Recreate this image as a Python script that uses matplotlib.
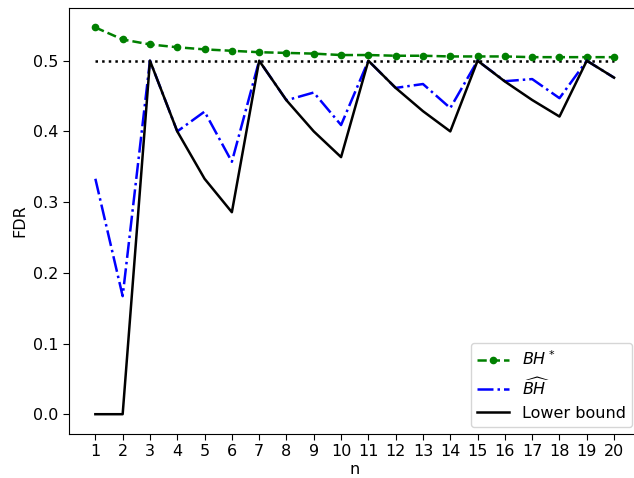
import matplotlib
matplotlib.use("Agg")
import matplotlib.pyplot as plt
import numpy as np

n = list(range(1, 21))
bh_star = [0.547, 0.530, 0.523, 0.519, 0.516, 0.514, 0.512, 0.511, 0.510, 0.508,
           0.508, 0.507, 0.507, 0.506, 0.506, 0.506, 0.505, 0.505, 0.505, 0.505]
bh_hat = [0.333, 0.167, 0.5, 0.4, 0.428, 0.357, 0.5, 0.444, 0.455, 0.409,
          0.5, 0.4615, 0.467, 0.433, 0.5, 0.471, 0.474, 0.447, 0.5, 0.476]
lower = [0.0, 0.0, 0.5, 0.4, 0.333, 0.2857, 0.5, 0.444, 0.4, 0.3636,
         0.5, 0.4615, 0.4286, 0.4, 0.5, 0.4706, 0.4444, 0.421, 0.5, 0.476]
alpha = 0.5

plt.rcParams['font.size'] = 11.5
plt.rcParams['lines.linewidth'] = 1.8
plt.rcParams['xtick.major.size'] = 4.2
plt.rcParams['ytick.major.size'] = 4.2

fig = plt.figure(figsize=(6.34, 4.78), dpi=100)
ax = fig.add_axes([0.1095, 0.093, 0.9, 0.890])
ax.plot(n, [alpha] * len(n), 'k:')
ax.plot(n, bh_star, '--', color='green', marker='o', markersize=4.5, label=r'$BH^*$')
ax.plot(n, bh_hat, '-.', color='blue', label=r'$\widehat{BH}$')
ax.plot(n, lower, '-', color='black', label='Lower bound')
ax.set_xticks(n)
ax.set_xlabel('n', labelpad=2)
ax.set_ylabel('FDR')
ax.legend(loc='lower right', bbox_to_anchor=(0.986, 0.015), borderaxespad=0)
fig.savefig('out.png', dpi=100)
